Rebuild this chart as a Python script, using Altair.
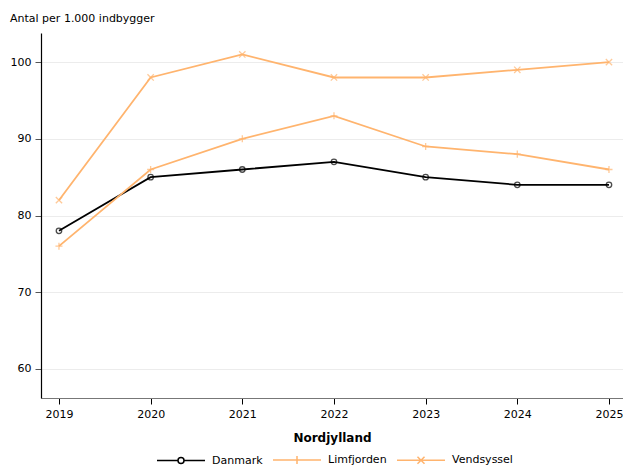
import altair as alt
import pandas as pd

years = [2019, 2020, 2021, 2022, 2023, 2024, 2025]
danmark = [78, 85, 86, 87, 85, 84, 84]
limfjorden = [76, 86, 90, 93, 89, 88, 86]
vendsyssel = [82, 98, 101, 98, 98, 99, 100]
series = ["Danmark", "Limfjorden", "Vendsyssel"]
colors = ["#000000", "#ffb46e", "#ffb46e"]
y_ticks = [60, 70, 80, 90, 100]

rows = []
for name, vals in zip(series, [danmark, limfjorden, vendsyssel]):
    for yr, v in zip(years, vals):
        rows.append({"year": yr, "value": v, "series": name})
df = pd.DataFrame(rows)

FONT = "DejaVu Sans"

x_enc = alt.X("year:Q",
              scale=alt.Scale(domain=[2018.804, 2025.153], nice=False, zero=False),
              axis=alt.Axis(values=years, format="d", title="Nordjylland",
                            grid=False, domain=True, domainColor="#777777",
                            tickColor="#000000", labelColor="#000000",
                            tickSize=6,
                            titleFontWeight="bold", titleFontSize=12,
                            labelFontSize=11, titlePadding=13, labelPadding=4))
y_enc = alt.Y("value:Q",
              scale=alt.Scale(domain=[56.2, 103.8], nice=False, zero=False),
              axis=alt.Axis(values=y_ticks, title=None, grid=True,
                            gridColor="#ececec", domainColor="#000000",
                            tickColor="#555555", labelColor="#000000",
                            tickSize=6,
                            labelFontSize=11, labelPadding=4))

legend_def = alt.Legend(orient="none", direction="horizontal",
                        legendX=131, legendY=418,
                        title=None, symbolSize=256,
                        symbolStrokeWidth=1.5, labelFontSize=11,
                        labelFont=FONT, columnPadding=7,
                        labelOffset=22)
color_scale = alt.Scale(domain=series, range=colors)
shape_scale = alt.Scale(domain=series, range=[
    "M-3,0H-0.375M0.375,0H3M0.375,0A0.375,0.375 0 1,1 -0.375,0A0.375,0.375 0 1,1 0.375,0",
    "M-3,0H3M0,-0.5V0.5",
    "M-3,0H3M-0.44,-0.44L0.44,0.44M-0.44,0.44L0.44,-0.44",
])

base = alt.Chart(df)

lines = base.mark_line(strokeWidth=1.8).encode(
    x=x_enc, y=y_enc,
    color=alt.Color("series:N", scale=color_scale, title=None, legend=legend_def),
)

legend_layer = base.mark_point(filled=False, strokeWidth=1.5, opacity=1, size=256).encode(
    x=x_enc, y=y_enc,
    color=alt.Color("series:N", scale=color_scale, title=None, legend=legend_def),
    shape=alt.Shape("series:N", scale=shape_scale, title=None, legend=legend_def),
).transform_filter("datum.value > 1000")

marker_shapes = [
    "circle",
    "M-1,0H1M0,-1V1",
    "M-1,-1L1,1M-1,1L1,-1",
]
marker_sizes = [30, 50, 40]
pts = []
for name, shp, col, sz in zip(series, marker_shapes, colors, marker_sizes):
    pts.append(
        base.transform_filter(alt.datum.series == name)
        .mark_point(filled=False, shape=shp, size=sz, color=col, strokeWidth=1.3)
        .encode(x=x_enc, y=y_enc)
    )

chart = alt.layer(legend_layer, lines, *pts).properties(
    width=582, height=365,
    padding={"left": 2, "top": 5, "right": 0, "bottom": 0},
    title=alt.TitleParams("Antal per 1.000 indbygger", anchor="start",
                          fontSize=11, fontWeight="normal", font=FONT,
                          color="#000000", offset=9),
).configure(font=FONT).configure_view(stroke=None).configure_axis(
    labelFont=FONT, titleFont=FONT, domainWidth=1.2
)

chart.save("out.html", embed_options={"renderer": "svg", "actions": False})
